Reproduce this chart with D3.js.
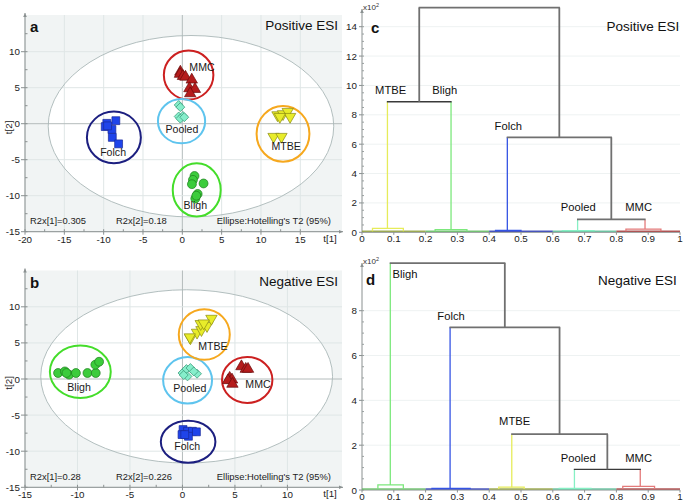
<!DOCTYPE html>
<html><head><meta charset="utf-8">
<script src="https://cdn.jsdelivr.net/npm/d3@7"></script>
<style>body{margin:0;background:#fff}svg{display:block;font-family:"Liberation Sans",Arial,sans-serif}</style>
</head><body><svg id="c" width="685" height="501"></svg>
<script>
// ---------- DATA ----------
const groups = ["MMC","Pooled","Folch","MTBE","Bligh"];
// Panel a (Positive ESI) scores [t1, t2]
const posMMC    = [[-0.25,7.2],[-0.3,6.9],[0.08,6.6],[0.4,6.5],[1.2,6.1],[0.9,4.9],[1.6,4.8],[1.0,4.2]];
const posPooled = [[-0.46,2.6],[-0.25,2.3],[-0.46,1.0],[0.08,1.07],[-0.25,0.7],[0.25,0.9]];
const posFolch  = [[-8.45,0.42],[-9.6,0.05],[-9.8,-0.4],[-8.95,-0.8],[-9.5,-0.3],[-8.9,-1.9],[-8.1,-2.8]];
const posMTBE   = [[12.1,1.2],[12.8,1.35],[13.4,1.67],[13.7,0.97],[12.4,0.97],[11.6,-1.8],[12.6,-1.8]];
const posBligh  = [[1.55,-7.26],[1.35,-7.8],[1.22,-8.4],[2.7,-8.3],[1.95,-9.76],[1.65,-10.4],[1.78,-10.0]];
// group ellipses [cx, cy, rx, ry] and label positions [t1, t2]
const posEllipses = [[0.8,6.76,3.15,3.4],[-0.1,0.35,3.0,3.08],[-8.7,-1.9,3.43,3.59],[12.8,-1.4,3.36,3.87],[1.83,-9.2,3.05,3.7]];
const posLabels   = [[2.5,7.3],[-0.05,-1.3],[-8.8,-4.5],[13.2,-3.6],[1.65,-11.8]];
const posHotelling = [1.1,-0.35,18.15,12.6];
const posR2 = ["R2x[1]=0.305","R2x[2]=0.18"];

// Panel b (Negative ESI)
const negMMC    = [[5.62,1.74],[6.03,1.38],[6.25,1.38],[4.5,0.14],[4.72,-0.1],[4.34,-0.19],[4.76,-0.69]];
const negPooled = [[0.0,0.83],[0.38,1.38],[0.76,1.52],[0.48,0.36],[1.39,0.73],[1.08,1.05],[0.12,0.55]];
const negFolch  = [[0.06,-7.0],[0.48,-7.24],[0.95,-7.24],[1.33,-7.32],[-0.04,-7.7],[0.57,-7.93],[0.22,-7.7]];
const negMTBE   = [[0.76,5.66],[1.39,6.44],[1.81,6.8],[1.74,7.64],[2.34,7.36],[2.76,8.37],[2.03,7.73],[0.7,5.8]];
const negBligh  = [[-11.85,0.83],[-11.2,1.05],[-10.8,0.6],[-10.15,0.83],[-9.05,0.83],[-8.26,0.83],[-8.3,1.98],[-7.94,2.39],[-11.05,0.83]];
const negEllipses = [[6.17,-0.14,2.4,3.18],[0.49,-0.19,2.33,3.22],[0.54,-8.69,2.6,2.92],[2.08,6.16,2.43,3.5],[-9.73,1.0,2.9,3.63]];
const negLabels   = [[7.2,-1.2],[0.7,-1.8],[0.45,-9.9],[2.9,4.05],[-9.85,-1.7]];
const negHotelling = [0.4,0.36,13.9,12.0];
const negR2 = ["R2x[1]=0.28","R2x[2]=0.226"];

// Dendrogram c (Positive ESI)
const cLeaves = ["MTBE","Bligh","Folch","Pooled","MMC"];
const cLeafX  = [0.08,0.28,0.457,0.678,0.89];
const cBoxes  = [[0.033,0.13,0.2],[0.23,0.33,0.12],[0.42,0.5,0.06],[0.63,0.73,0.05],[0.83,0.94,0.15]];
const cBase   = [[0.0,0.2],[0.2,0.4],[0.4,0.6],[0.6,0.8],[0.8,1.0]];
const cMerges = [["MTBE","Bligh",8.89],["Pooled","MMC",0.88],["Folch","m2",6.47],["m1","m3",15.3]];
const cLabelPos = [[0.09,9.4],[0.26,9.4],[0.46,7.0],[0.68,1.45],[0.87,1.45]];

// Dendrogram d (Negative ESI)
const dLeaves = ["Bligh","Folch","MTBE","Pooled","MMC"];
const dLeafX  = [0.089,0.277,0.471,0.668,0.875];
const dBoxes  = [[0.05,0.13,0.18],[0.22,0.34,0.03],[0.43,0.51,0.08],[0.62,0.72,0.03],[0.82,0.92,0.12]];
const dBase   = [[0.0,0.2],[0.2,0.4],[0.4,0.6],[0.6,0.8],[0.8,1.0]];
const dMerges = [["Pooled","MMC",0.92],["MTBE","m1",2.49],["Folch","m2",7.26],["Bligh","m3",10.12]];
const dLabelPos = [[0.135,9.45],[0.28,7.6],[0.48,2.9],[0.68,1.25],[0.87,1.25]];

// ---------- STYLE ----------
const ellColor = {MMC:"#cc2020",Pooled:"#5ec4ee",Folch:"#1c1f80",MTBE:"#f6a81e",Bligh:"#44dd2a"};
const mk = {
  MMC:{sym:d3.symbolTriangle,size:56,fill:"#b51c1c",stroke:"#6a0c0c",rot:0},
  Pooled:{sym:d3.symbolSquare,size:40,fill:"#86eecb",stroke:"#3a9a7a",rot:45},
  Folch:{sym:d3.symbolSquare,size:62,fill:"#1f44ea",stroke:"#1a2a9a",rot:0},
  MTBE:{sym:d3.symbolTriangle,size:56,fill:"#e8ec2a",stroke:"#8a8a10",rot:180},
  Bligh:{sym:d3.symbolCircle,size:62,fill:"#3ccc3c",stroke:"#1c7c1c",rot:0}
};
const dColor = {MTBE:"#e6ec5a",Bligh:"#7ce87c",Folch:"#3454e4",Pooled:"#86f0c4",MMC:"#e47a7a"};
const dBaseColor = {MTBE:"#8a9a30",Bligh:"#58b858",Folch:"#2030b0",Pooled:"#50b890",MMC:"#a03030"};

const svg = d3.select("#c");

function axisArrowsY(g,x,y0,y1){
  g.append("line").attr("x1",x).attr("x2",x).attr("y1",y0).attr("y2",y1).attr("stroke","#8a9090").attr("stroke-width",1);
  g.append("path").attr("d",`M${x-1.8},${y1+4}L${x},${y1}L${x+1.8},${y1+4}Z`).attr("fill","#8a9090");
}
function axisArrowsX(g,y,x0,x1){
  g.append("line").attr("x1",x0).attr("x2",x1).attr("y1",y).attr("y2",y).attr("stroke","#8a9090").attr("stroke-width",1);
  g.append("path").attr("d",`M${x1-4},${y-1.8}L${x1},${y}L${x1-4},${y+1.8}Z`).attr("fill","#8a9090");
}

function scatter(opt){
  const {x,y,top,bottom,data,ell,lab,hot,r2,letter,title,yTicks,xTicks} = opt;
  const g = svg.append("g");
  const L = x.range()[0], R = x.range()[1];
  g.append("rect").attr("x",L).attr("y",top).attr("width",R-L).attr("height",bottom-top).attr("fill","#f1f4f4");
  g.append("ellipse").attr("cx",x(hot[0])).attr("cy",y(hot[1]))
    .attr("rx",x(hot[0]+hot[2])-x(hot[0])).attr("ry",y(hot[1])-y(hot[1]+hot[3]))
    .attr("fill","#fff").attr("stroke","none");
  const xg = d3.range(xTicks[0],xTicks[1]+0.01,5), yg = d3.range(yTicks[0],yTicks[1]+0.01,5);
  g.selectAll(null).data(xg).join("line").attr("x1",d=>x(d)).attr("x2",d=>x(d)).attr("y1",top).attr("y2",bottom)
    .attr("stroke",d=>d===0?"#b4bcbc":"#dfe6e6").attr("stroke-width",1);
  g.selectAll(null).data(yg).join("line").attr("y1",d=>y(d)).attr("y2",d=>y(d)).attr("x1",L).attr("x2",R)
    .attr("stroke",d=>d===0?"#b4bcbc":"#dfe6e6").attr("stroke-width",1);
  g.append("ellipse").attr("cx",x(hot[0])).attr("cy",y(hot[1]))
    .attr("rx",x(hot[0]+hot[2])-x(hot[0])).attr("ry",y(hot[1])-y(hot[1]+hot[3]))
    .attr("fill","none").attr("stroke","#aab8b8").attr("stroke-width",0.9);
  axisArrowsY(g,L,bottom,top-2);
  axisArrowsX(g,bottom,L,R+1);
  const ym = d3.range(yTicks[0],yTicks[1]+2.6,2.5);
  g.selectAll(null).data(ym).join("line").attr("x1",L).attr("x2",L+2.5).attr("y1",d=>y(d)).attr("y2",d=>y(d)).attr("stroke","#8a9090");
  const xm = d3.range(xTicks[0],xTicks[1]+0.01,2.5);
  g.selectAll(null).data(xm).join("line").attr("y1",bottom).attr("y2",bottom-2.5).attr("x1",d=>x(d)).attr("x2",d=>x(d)).attr("stroke","#8a9090");
  g.selectAll(null).data(yg).join("line").attr("x1",L-4).attr("x2",L).attr("y1",d=>y(d)).attr("y2",d=>y(d)).attr("stroke","#8a9090");
  g.selectAll(null).data(xg).join("line").attr("y1",bottom).attr("y2",bottom+3).attr("x1",d=>x(d)).attr("x2",d=>x(d)).attr("stroke","#8a9090");
  g.selectAll(null).data(yg).join("text").attr("x",L-5).attr("y",d=>y(d)+3.5).attr("text-anchor","end")
    .attr("font-size",9.8).attr("fill","#222").text(d=>d);
  g.selectAll(null).data(xg).join("text").attr("x",d=>x(d)).attr("y",bottom+11).attr("text-anchor","middle")
    .attr("font-size",9.8).attr("fill","#222").text(d=>d);
  g.append("text").attr("transform",`translate(12,${(top+bottom)/2+4}) rotate(-90)`).attr("text-anchor","middle")
    .attr("font-size",9.8).attr("fill","#222").text("t[2]");
  g.append("text").attr("x",R-12).attr("y",bottom+10).attr("text-anchor","middle").attr("font-size",9.8).attr("fill","#222").text("t[1]");
  groups.forEach((k,i)=>{
    const e = ell[i];
    g.append("ellipse").attr("cx",x(e[0])).attr("cy",y(e[1]))
      .attr("rx",x(e[0]+e[2])-x(e[0])).attr("ry",y(e[1])-y(e[1]+e[3]))
      .attr("fill","none").attr("stroke",ellColor[k]).attr("stroke-width",2);
  });
  groups.forEach((k,i)=>{
    const m = mk[k];
    g.selectAll(null).data(data[i]).join("path")
      .attr("d",d3.symbol().type(m.sym).size(m.size))
      .attr("transform",d=>`translate(${x(d[0])},${y(d[1])}) rotate(${m.rot})`)
      .attr("fill",m.fill).attr("stroke",m.stroke).attr("stroke-width",0.7);
  });
  groups.forEach((k,i)=>{
    g.append("text").attr("x",x(lab[i][0])).attr("y",y(lab[i][1])).attr("text-anchor","middle")
      .attr("font-size",10.6).attr("fill","#1a1a1a").text(k);
  });
  g.append("text").attr("x",L+5).attr("y",top+17).attr("font-size",15).attr("font-weight","bold").attr("fill","#111").text(letter);
  g.append("text").attr("x",R-4).attr("y",top+15).attr("text-anchor","end").attr("font-size",13.5).attr("fill","#111").text(title);
  g.append("text").attr("x",L+5).attr("y",bottom-7.5).attr("font-size",9.4).attr("fill","#222").text(r2[0]);
  g.append("text").attr("x",L+91).attr("y",bottom-7.5).attr("font-size",9.4).attr("fill","#222").text(r2[1]);
  g.append("text").attr("x",R-11).attr("y",bottom-7.5).attr("text-anchor","end").attr("font-size",9.4).attr("fill","#222").text("Ellipse:Hotelling's T2 (95%)");
}

scatter({x:d3.scaleLinear([-20,20.3],[25,342]), y:d3.scaleLinear([-15,15],[231.7,15.7]), top:15, bottom:231.7,
  data:[posMMC,posPooled,posFolch,posMTBE,posBligh], ell:posEllipses, lab:posLabels, hot:posHotelling, r2:posR2,
  letter:"a", title:"Positive ESI", xTicks:[-20,15], yTicks:[-15,10]});
scatter({x:d3.scaleLinear([-15,15.2],[25,342]), y:d3.scaleLinear([-15,15],[487.3,270.7]), top:270.5, bottom:487.3,
  data:[negMMC,negPooled,negFolch,negMTBE,negBligh], ell:negEllipses, lab:negLabels, hot:negHotelling, r2:negR2,
  letter:"b", title:"Negative ESI", xTicks:[-15,10], yTicks:[-15,10]});

function dendro(opt){
  const {x,y,axisTop,leaves,leafX,boxes,base,merges,labPos,letter,title,yMax,letterPos,titlePos} = opt;
  const g = svg.append("g");
  const L = x.range()[0], R = x.range()[1], B = y.range()[0];
  const yt = d3.range(0,yMax+0.01,2);
  g.selectAll(null).data(yt.filter(d=>d>0)).join("line").attr("x1",L).attr("x2",R).attr("y1",d=>y(d)).attr("y2",d=>y(d))
    .attr("stroke","#eef2f2").attr("stroke-width",1);
  axisArrowsY(g,L,B,axisTop);
  g.append("line").attr("x1",L).attr("x2",R).attr("y1",B).attr("y2",B).attr("stroke","#8a9090");
  const ym = d3.range(0,yMax+0.01,0.5);
  g.selectAll(null).data(ym).join("line").attr("x1",L).attr("x2",L+2).attr("y1",d=>y(d)).attr("y2",d=>y(d)).attr("stroke","#9aa0a0");
  g.selectAll(null).data(yt).join("line").attr("x1",L-3).attr("x2",L).attr("y1",d=>y(d)).attr("y2",d=>y(d)).attr("stroke","#8a9090");
  g.selectAll(null).data(yt).join("text").attr("x",L-5).attr("y",d=>y(d)+3.5).attr("text-anchor","end")
    .attr("font-size",9.8).attr("fill","#222").text(d=>d);
  const xt = d3.range(0,1.001,0.1);
  g.selectAll(null).data(xt).join("line").attr("x1",d=>x(d)).attr("x2",d=>x(d)).attr("y1",B).attr("y2",B+2.5).attr("stroke","#8a9090");
  g.selectAll(null).data(xt).join("text").attr("x",d=>x(d)).attr("y",B+10).attr("text-anchor","middle")
    .attr("font-size",9.8).attr("fill","#222").text(d=>d3.format("~g")(+d.toFixed(1)));
  const t = g.append("text").attr("x",L+1).attr("y",axisTop+1).attr("font-size",8).attr("fill","#333");
  t.append("tspan").text("x10");
  t.append("tspan").attr("dy",-3).attr("font-size",5.5).text("2");
  const pos = {}, top = {};
  leaves.forEach((k,i)=>{
    pos[k]=leafX[i]; top[k]=boxes[i][2];
    const b = base[i], bx = boxes[i];
    g.append("line").attr("x1",x(b[0])).attr("x2",x(b[1])).attr("y1",y(0)-1).attr("y2",y(0)-1)
      .attr("stroke",dBaseColor[k]).attr("stroke-width",1.4).attr("opacity",0.8);
    g.append("path").attr("d",`M${x(bx[0])},${y(0)-1}V${y(bx[2])-1}H${x(bx[1])}V${y(0)-1}`)
      .attr("fill","none").attr("stroke",dColor[k]).attr("stroke-width",1.3);
  });
  const col = {};
  leaves.forEach(k=>col[k]=dColor[k]);
  merges.forEach((m,i)=>{
    const name = "m"+(i+1);
    const [a,b,h] = m;
    [a,b].forEach(c=>{
      g.append("line").attr("x1",x(pos[c])).attr("x2",x(pos[c])).attr("y1",y(top[c])-(col[c]?1:0)).attr("y2",y(h))
        .attr("stroke",col[c]||"#707070").attr("stroke-width",col[c]?1.3:1.8);
    });
    g.append("line").attr("x1",x(pos[a])-0.6).attr("x2",x(pos[b])+0.6).attr("y1",y(h)).attr("y2",y(h))
      .attr("stroke",i===0?"#3a3a3a":"#707070").attr("stroke-width",i===0?1.3:1.8);
    pos[name]=(pos[a]+pos[b])/2; top[name]=h;
  });
  leaves.forEach((k,i)=>{
    g.append("text").attr("x",x(labPos[i][0])).attr("y",y(labPos[i][1])).attr("text-anchor","middle")
      .attr("font-size",11.2).attr("fill","#111").text(k);
  });
  g.append("text").attr("x",letterPos[0]).attr("y",letterPos[1]).attr("font-size",15).attr("font-weight","bold").attr("fill","#111").text(letter);
  g.append("text").attr("x",titlePos[0]).attr("y",titlePos[1]).attr("font-size",13.5).attr("fill","#111").text(title);
}

dendro({x:d3.scaleLinear([0,1],[362,680]), y:d3.scaleLinear([0,14],[232.3,26.7]), axisTop:9, yMax:14,
  leaves:cLeaves, leafX:cLeafX, boxes:cBoxes, base:cBase, merges:cMerges, labPos:cLabelPos,
  letter:"c", title:"Positive ESI", letterPos:[371,33], titlePos:[606.5,31]});
dendro({x:d3.scaleLinear([0,1],[362,680]), y:d3.scaleLinear([0,8],[490,310.7]), axisTop:263, yMax:8,
  leaves:dLeaves, leafX:dLeafX, boxes:dBoxes, base:dBase, merges:dMerges, labPos:dLabelPos,
  letter:"d", title:"Negative ESI", letterPos:[366,285], titlePos:[598,285]});
</script></body></html>
